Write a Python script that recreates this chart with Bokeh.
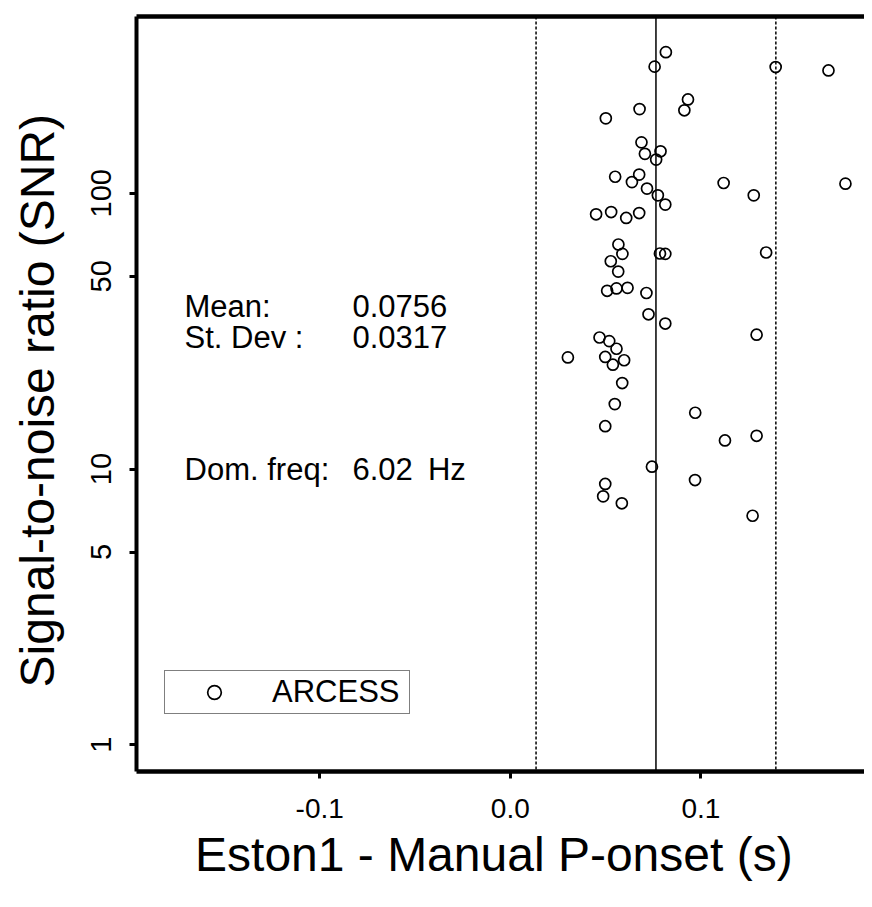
from bokeh.plotting import figure
from bokeh.models import (FixedTicker, PrintfTickFormatter, Span, Legend, LegendItem,
                          LinearAxis, ColumnDataSource, Range1d)
from bokeh.core.properties import value
from bokeh.embed import file_html
from bokeh.resources import INLINE

# ---------------- data ----------------
offset_s = [0.0816, 0.0757, 0.1392, 0.1669, 0.0932, 0.0913, 0.0678, 0.0501,
            0.0688, 0.0788, 0.0706, 0.0765, 0.0550, 0.0676, 0.0638, 0.0717,
            0.1119, 0.1758, 0.0774, 0.1277, 0.0813, 0.0450, 0.0529, 0.0608,
            0.0676, 0.0567, 0.0588, 0.0527, 0.0566, 0.0785, 0.0813, 0.1342,
            0.0508, 0.0557, 0.0615, 0.0714, 0.0725, 0.0813, 0.1292, 0.0468,
            0.0519, 0.0557, 0.0302, 0.0498, 0.0597, 0.0538, 0.0587, 0.0548,
            0.0970, 0.0498, 0.1292, 0.1126, 0.0743, 0.0969, 0.0498, 0.0487,
            0.0585, 0.1271]
snr = [325, 288, 287, 279, 219, 200, 202, 187,
       153, 142, 139, 132.5, 114.8, 116.9, 109.8, 104,
       109, 108.4, 98.3, 98.3, 91, 83.9, 85.5, 81.4,
       84.8, 65.2, 60.3, 56.7, 52.0, 60.5, 60.3, 61,
       44.3, 45.2, 45.4, 43.5, 36.4, 33.7, 30.7, 30.0,
       29.1, 27.3, 25.4, 25.5, 24.8, 23.9, 20.5, 17.2,
       16.0, 14.3, 13.2, 12.7, 10.2, 9.12, 8.83, 7.96,
       7.51, 6.77]

mean_line = 0.0764
band_lines = [0.0135, 0.1393]

x_ticks = [-0.1, 0.0, 0.1]
y_ticks = [1, 5, 10, 50, 100]

stat_names = ["Mean:", "St. Dev :", "Dom. freq:"]
stat_values = ["0.0756", "0.0317", "6.02"]
freq_unit = "Hz"
series_name = "ARCESS"

x_title = "Eston1 - Manual P-onset  (s)"
y_title = "Signal-to-noise ratio  (SNR)"

# ---------------- styling / positions ----------------
FONT = "Liberation Sans"
name_x = -0.1709
val_x = -0.0828
unit_x = -0.0432
row_y = [38.96, 30.08, 10.0]

p = figure(width=864, height=891,
           x_range=Range1d(-0.1961, 0.1858), y_range=Range1d(0.80, 437.7),
           y_axis_type="log", output_backend="svg", toolbar_location=None,
           min_border_left=136, min_border_right=0, min_border_top=16,
           min_border_bottom=120)
p.outline_line_color = None
p.grid.visible = False
p.background_fill_color = "white"
p.border_fill_color = "white"

# x axis
xa = p.xaxis[0]
xa.ticker = FixedTicker(ticks=x_ticks)
xa.formatter = PrintfTickFormatter(format="%.1f")
xa.axis_line_width = 4.5
xa.major_tick_line_width = 3
xa.major_tick_out = 7
xa.major_tick_in = 0
xa.minor_tick_line_color = None
xa.major_label_text_font = FONT
xa.major_label_text_font_size = "28px"
xa.major_label_text_color = "black"
xa.major_label_standoff = 20
xa.axis_label = x_title
xa.axis_label_text_font = FONT
xa.axis_label_text_font_size = "48px"
xa.axis_label_text_font_style = "normal"
xa.axis_label_text_color = "black"
xa.axis_label_standoff = 7

# y axis
ya = p.yaxis[0]
ya.ticker = FixedTicker(ticks=y_ticks)
ya.formatter = PrintfTickFormatter(format="%d")
ya.axis_line_width = 4
ya.major_tick_line_width = 3
ya.major_tick_out = 7
ya.major_tick_in = 0
ya.minor_tick_line_color = None
ya.major_label_orientation = "vertical"
ya.major_label_text_font = FONT
ya.major_label_text_font_size = "29px"
ya.major_label_text_color = "black"
ya.major_label_standoff = 18
ya.axis_label = y_title
ya.axis_label_text_font = FONT
ya.axis_label_text_font_size = "48px"
ya.axis_label_text_font_style = "normal"
ya.axis_label_text_color = "black"
ya.axis_label_standoff = 25

# top border line
top = LinearAxis(ticker=FixedTicker(ticks=[]), axis_line_width=4.5,
                 major_tick_out=0, major_tick_in=0, major_label_standoff=0,
                 major_label_text_font_size="0px", minor_tick_line_color=None,
                 major_tick_line_color=None)
p.add_layout(top, "above")

# reference lines
p.add_layout(Span(location=mean_line, dimension="height",
                  line_color="black", line_width=1.5))
for b in band_lines:
    p.add_layout(Span(location=b, dimension="height", line_color="black",
                      line_width=1.5, line_dash="3 2"))

src = ColumnDataSource(dict(x=offset_s, y=snr))
r = p.scatter("x", "y", source=src, marker="circle", size=11,
              fill_color=None, line_color="black", line_width=1.7)

# statistics text
p.text(x=[name_x] * 3, y=row_y, text=stat_names, text_font=value(FONT),
       text_font_size="31px", text_baseline="middle", text_align="left",
       text_color="black")
p.text(x=[val_x] * 3, y=row_y, text=stat_values, text_font=value(FONT),
       text_font_size="31px", text_baseline="middle", text_align="left",
       text_color="black")
p.text(x=[unit_x], y=[row_y[2]], text=[freq_unit], text_font=value(FONT),
       text_font_size="31px", text_baseline="middle", text_align="left",
       text_color="black")

legend = Legend(items=[LegendItem(label=series_name, renderers=[r])],
                location=(28, 57), margin=0, padding=3,
                glyph_width=92, glyph_height=34, label_standoff=12,
                label_width=134,
                label_text_font=FONT, label_text_font_size="31px",
                label_text_color="black", border_line_color="black",
                border_line_width=1, background_fill_color="white",
                background_fill_alpha=1.0)
p.add_layout(legend)

open("out.html", "w").write(file_html(p, INLINE))
